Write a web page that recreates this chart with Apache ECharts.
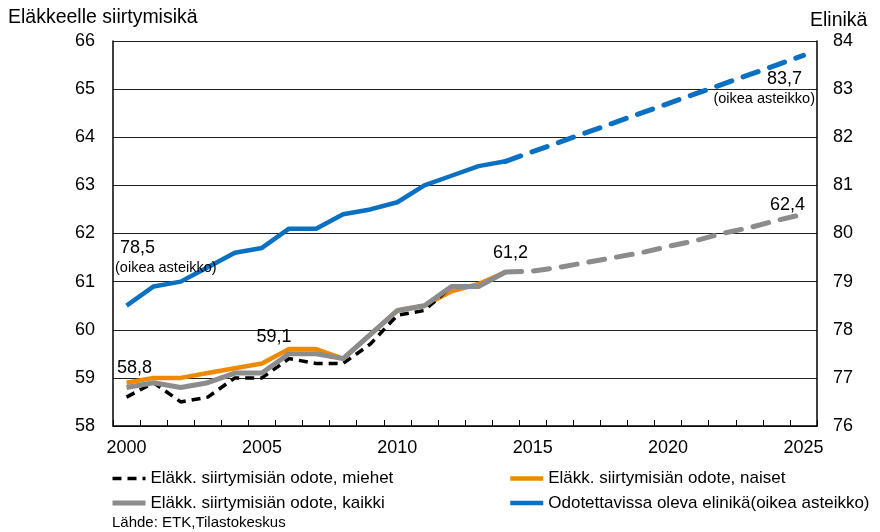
<!DOCTYPE html>
<html>
<head>
<meta charset="utf-8">
<script src="https://cdn.jsdelivr.net/npm/echarts@6/dist/echarts.min.js"></script>
<style>html,body{margin:0;padding:0;background:#fff}#c{width:880px;height:532px}</style>
</head>
<body>
<div id="c"></div>
<script>
const years = ['2000','2001','2002','2003','2004','2005','2006','2007','2008','2009','2010','2011','2012','2013','2014','2015','2016','2017','2018','2019','2020','2021','2022','2023','2024','2025'];
const leftTicks = [58, 66, 1];
const rightTicks = [76, 84, 1];
// Left axis (Eläkkeelle siirtymisikä)
const miehet = [58.6,58.9,58.5,58.6,59.0,59.0,59.4,59.3,59.3,59.7,60.3,60.4,60.9,60.9,61.2];
const naiset = [58.9,59.0,59.0,59.1,59.2,59.3,59.6,59.6,59.4,59.9,60.4,60.5,60.8,60.95,61.2];
const kaikki = [58.8,58.9,58.8,58.9,59.1,59.1,59.5,59.5,59.4,59.9,60.4,60.5,60.9,60.9,61.2];
const kaikkiEnnuste = [61.2,61.22,61.3,61.4,61.5,61.6,61.73,61.85,62.0,62.12,62.27,62.4]; // 2014-2025
// Right axis (Elinikä)
const elinika = [78.5,78.9,79.0,79.3,79.6,79.7,80.1,80.1,80.4,80.5,80.65,81.0,81.2,81.4,81.5];
const elinikaEnnuste = [81.5,81.7,81.9,82.1,82.3,82.5,82.7,82.9,83.1,83.3,83.5,83.7]; // 2014-2025

const names = {
  m: 'Eläkk. siirtymisiän odote, miehet',
  n: 'Eläkk. siirtymisiän odote, naiset',
  k: 'Eläkk. siirtymisiän odote, kaikki',
  e: 'Odotettavissa oleva elinikä(oikea asteikko)'
};
const FONT = '"Liberation Sans", Arial, sans-serif';
const pad = (arr, start) => years.map((y, i) => (i >= start && i - start < arr.length) ? arr[i - start] : null);
const fmt = v => v.toFixed(1).replace('.', ',');
const startF = years.indexOf('2014');
const last = years.length - 1;

const lblBase = {show: true, position: 'inside', color: '#000', fontFamily: FONT, fontSize: 18,
  textBorderWidth: 0, textBorderColor: 'transparent', textShadowBlur: 0, opacity: 1};
const leftLabels = [
  {idx: 0, val: kaikki[0], off: [8, -19]},
  {idx: 5, val: kaikki[5], off: [12, -36]},
  {idx: startF, val: kaikki[startF], off: [5, -19]},
  {idx: last, val: kaikkiEnnuste[kaikkiEnnuste.length - 1], off: [-16, -9]}
].map(o => ({value: [o.idx, o.val], label: Object.assign({}, lblBase, {offset: o.off, formatter: fmt(o.val)})}));
const rightLabels = [
  {idx: 0, val: elinika[0], align: 'left', off: [-11.5, -69], pa: [0,0,0,5]},
  {idx: last, val: elinikaEnnuste[elinikaEnnuste.length - 1], align: 'right', off: [11.5, 13], pa: [0,13,0,0]}
].map(o => ({value: [o.idx, o.val], label: Object.assign({}, lblBase, {
  offset: o.off, align: o.align, verticalAlign: 'top',
  formatter: '{a|' + fmt(o.val) + '}\n{b|(oikea asteikko)}',
  rich: {a: {fontSize: 18, lineHeight: 22, fontFamily: FONT, color: '#000', padding: o.pa, textBorderWidth: 0},
         b: {fontSize: 14.5, lineHeight: 18, fontFamily: FONT, color: '#000', textBorderWidth: 0}}
})}));

const chart = echarts.init(document.getElementById('c'), null, {renderer: 'canvas'});
const orange = '#EE8A00', gray = '#8C8C8C', blue = '#0A70C2';
const legendCommon = {orient: 'vertical', top: 470, padding: 0, itemWidth: 33, itemHeight: 12, itemGap: 7.5,
  itemStyle: {opacity: 0}, lineStyle: {width: 'inherit'},
  textStyle: {fontSize: 17, color: '#000', fontFamily: FONT}, selectedMode: false};
chart.setOption({
  animation: false,
  backgroundColor: '#fff',
  textStyle: {fontFamily: FONT},
  grid: {left: 113, right: 63, top: 41, bottom: 106, containLabel: false},
  legend: [
    Object.assign({data: [names.m, names.k], left: 110}, legendCommon),
    Object.assign({data: [names.n, names.e], left: 508}, legendCommon)
  ],
  graphic: [
    {type: 'text', left: 8, top: 7.5, style: {text: 'Eläkkeelle siirtymisikä', font: '19.5px ' + FONT, fill: '#000'}},
    {type: 'text', left: 810, top: 11, style: {text: 'Elinikä', font: '19.5px ' + FONT, fill: '#000'}},
    {type: 'text', left: 112, top: 515, style: {text: 'Lähde: ETK,Tilastokeskus', font: '15px ' + FONT, fill: '#000'}}
  ],
  xAxis: {
    type: 'category', data: years, boundaryGap: true,
    axisLine: {show: true, lineStyle: {color: '#000', width: 1.5}},
    axisTick: {show: true, inside: true, length: 6, interval: 0, lineStyle: {color: '#000', width: 1}},
    axisLabel: {interval: 4, fontSize: 18, color: '#000', margin: 13, fontFamily: FONT},
    splitLine: {show: false}
  },
  yAxis: [
    {type: 'value', min: leftTicks[0], max: leftTicks[1], interval: leftTicks[2], position: 'left',
     axisLine: {show: true, lineStyle: {color: '#000', width: 1.5}}, axisTick: {show: false},
     axisLabel: {fontSize: 18, color: '#000', margin: 18, fontFamily: FONT},
     splitLine: {show: true, lineStyle: {color: '#222', width: 1}}},
    {type: 'value', min: rightTicks[0], max: rightTicks[1], interval: rightTicks[2], position: 'right',
     axisLine: {show: true, lineStyle: {color: '#000', width: 1.5}}, axisTick: {show: false},
     axisLabel: {fontSize: 18, color: '#000', margin: 16, fontFamily: FONT},
     splitLine: {show: false}}
  ],
  series: [
    {name: names.n, type: 'line', data: pad(naiset, 0), showSymbol: false, symbol: 'none', color: orange,
     lineStyle: {color: orange, width: 4.5}, z: 2},
    {name: names.m, type: 'line', data: pad(miehet, 0), showSymbol: false, symbol: 'none', color: '#000',
     lineStyle: {color: '#000', width: 3.5, type: [9, 6]}, z: 3},
    {name: names.k, type: 'line', data: pad(kaikki, 0), showSymbol: false, symbol: 'none', color: gray,
     lineStyle: {color: gray, width: 5}, z: 4},
    {name: 'kaikki-ennuste', type: 'line', data: pad(kaikkiEnnuste, startF), showSymbol: false, symbol: 'none', color: gray,
     lineStyle: {color: gray, width: 5, type: [16, 12], cap: 'round'}, z: 4},
    {name: names.e, type: 'line', yAxisIndex: 1, data: pad(elinika, 0), showSymbol: false, symbol: 'none', color: blue,
     lineStyle: {color: blue, width: 4.5}, z: 5},
    {name: 'elinika-ennuste', type: 'line', yAxisIndex: 1, data: pad(elinikaEnnuste, startF), showSymbol: false, symbol: 'none', color: blue,
     lineStyle: {color: blue, width: 5, type: [16, 12], cap: 'round'}, z: 5},
    {name: 'lbl-left', type: 'scatter', yAxisIndex: 0, data: leftLabels, symbolSize: 1, itemStyle: {color: 'rgba(0,0,0,0)'}, z: 10, silent: true},
    {name: 'lbl-right', type: 'scatter', yAxisIndex: 1, data: rightLabels, symbolSize: 1, itemStyle: {color: 'rgba(0,0,0,0)'}, z: 10, silent: true}
  ]
});
</script>
</body>
</html>
